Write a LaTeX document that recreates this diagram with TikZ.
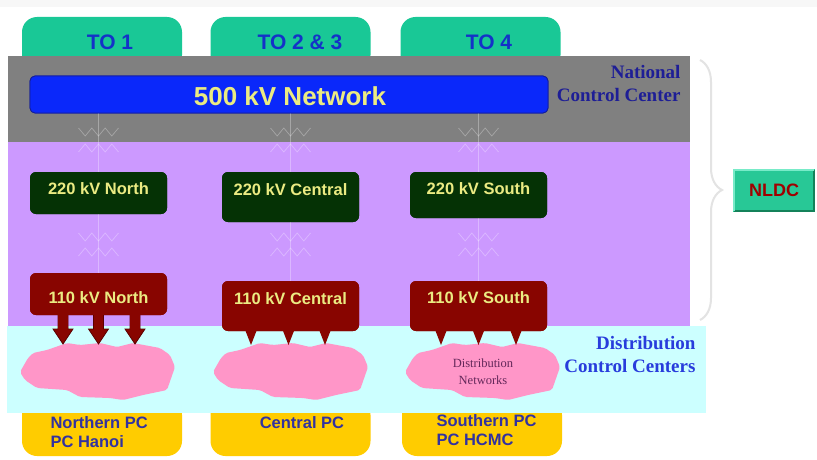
\documentclass[tikz,border=0pt]{standalone}
\usepackage{fontspec}
\setmainfont{Liberation Serif}
\setsansfont{Liberation Sans}
\usetikzlibrary{decorations.pathreplacing}
\definecolor{tabgreen}{RGB}{25,200,150}
\definecolor{tabtext}{RGB}{20,50,200}
\definecolor{nccgray}{RGB}{128,128,128}
\definecolor{barblue}{RGB}{10,40,250}
\definecolor{barborder}{RGB}{20,30,150}
\definecolor{lilac}{RGB}{204,153,255}
\definecolor{paleCyan}{RGB}{204,255,255}
\definecolor{pcyellow}{RGB}{255,204,0}
\definecolor{pcText}{RGB}{50,50,160}
\definecolor{cloudpink}{RGB}{255,150,200}
\definecolor{darkgreenbox}{RGB}{5,50,5}
\definecolor{darkredbox}{RGB}{136,5,0}
\definecolor{darkredline}{RGB}{90,0,0}
\definecolor{lbltext}{RGB}{235,235,130}
\definecolor{nccText}{RGB}{30,30,150}
\definecolor{dccText}{RGB}{40,60,220}
\definecolor{nldcgreen}{RGB}{40,200,150}
\definecolor{nldcedge}{RGB}{20,130,90}
\definecolor{nldclight}{RGB}{120,235,200}
\definecolor{nldcText}{RGB}{160,0,0}
\definecolor{netText}{RGB}{100,40,90}
\tikzset{
  tabbox/.style={fill=tabgreen, rounded corners=15pt, minimum width=160pt, minimum height=53pt, inner sep=0pt},
  tablbl/.style={font=\sffamily\bfseries\fontsize{21}{23}\selectfont, text=tabtext},
  pcbox/.style={fill=pcyellow, rounded corners=15pt, minimum width=160pt, minimum height=56pt, inner sep=0pt},
  pclbl/.style={font=\sffamily\bfseries\fontsize{16.5}{19.5}\selectfont, text=pcText, align=left},
  hvbox/.style={fill=barblue, draw=barborder, line width=0.8pt, rounded corners=5pt, minimum width=518pt, minimum height=37pt, inner sep=0pt},
  hvlbl/.style={font=\sffamily\bfseries\fontsize{26}{28}\selectfont, text=lbltext},
  gbox/.style={fill=darkgreenbox, rounded corners=6pt, minimum width=137pt, inner sep=0pt},
  rbox/.style={fill=darkredbox, rounded corners=6pt, minimum width=137pt, inner sep=0pt},
  boxlbl/.style={font=\sffamily\bfseries\fontsize{16.5}{18}\selectfont, text=lbltext},
  ctrlbl/.style={font=\rmfamily\bfseries\fontsize{19}{23}\selectfont, align=right, anchor=east},
  xfline/.style={draw=white, draw opacity=0.3, line width=0.7pt},
  downarrow/.style={fill=darkredbox, draw=darkredline, line width=0.8pt, line join=miter},
  coilv/.pic={\draw[xfline] (-20,0)--(-13.3,8)--(-6.7,0)--(0,8)--(6.7,0)--(13.3,8)--(20,0);},
  coila/.pic={\draw[xfline] (-20,8)--(-13.3,0)--(-6.7,8)--(0,0)--(6.7,8)--(13.3,0)--(20,8);},
  distcloud/.pic={\fill[cloudpink, rounded corners=2pt]
     (-70,-13)--(-78,1)--(-73,9)--(-61,17)--(-31,19)--(-18,26)--(12,27)--(25,29)--(45,24)--(69,19)
     --(77,-4)--(72,-16)--(62,-23)--(35,-28)--(19,-24)--(2,-28)--(-18,-26)--(-31,-28)--(-51,-21)--(-65,-18)--cycle;},
  callout/.pic={\fill[darkredbox] (-7,-4)--(7,-4)--(0,14)--cycle;},
  blockarrow/.pic={\path[downarrow] (-5,0)--(-5,14)--(-10,14)--(0,29)--(10,14)--(5,14)--(5,0);
     \fill[darkredbox] (-4.6,-1)--(-4.6,14.4)--(4.6,14.4)--(4.6,-1)--cycle;},
}
\begin{document}
\begin{tikzpicture}[x=1pt,y=-1pt]
\useasboundingbox (0,0) rectangle (817,460);
\fill[white] (0,0) rectangle (817,460);
\fill[black!3] (0,0) rectangle (817,7);

% TO tabs
\node[tabbox] (to1) at (102,43.5) {};
\node[tabbox] (to23) at (290.5,43.5) {};
\node[tabbox] (to4) at (480.5,43.5) {};

% national control center band
\fill[nccgray] (8,56) rectangle (690,142);
% regional band
\fill[lilac] (8,142) rectangle (690,326);

% yellow PC boxes
\node[pcbox] (pc1) at (102,428) {};
\node[pcbox] (pc2) at (290.5,428) {};
\node[pcbox] (pc3) at (482,428) {};

% distribution band
\fill[paleCyan] (7,326) rectangle (706,413);

% 500 kV bar
\node[hvbox] (hv) at (289,94.5) {};

% 220 kV boxes
\node[gbox, minimum height=42pt] (g1) at (98.5,193) {};
\node[gbox, minimum height=50pt] (g2) at (290.5,197) {};
\node[gbox, minimum height=46pt] (g3) at (478.5,195) {};

% 110 kV boxes
\node[rbox, minimum height=42pt] (r1) at (98.5,294) {};
\node[rbox, minimum height=50pt] (r2) at (290.5,306) {};
\node[rbox, minimum height=50pt] (r3) at (478.5,306) {};

% transformer connectors
\foreach \g/\r in {g1/r1, g2/r2, g3/r3}{
  \draw[xfline] (hv.south -| \g.north) -- (\g.north);
  \draw[xfline] (\g.south) -- (\r.north);
}
\foreach \x in {98.5, 290.5, 478.5}{
  \pic at (\x,128) {coilv};
  \pic at (\x,144) {coila};
  \pic at (\x,233) {coilv};
  \pic at (\x,248) {coila};
}
% redraw boxes above the connector lines
\node[hvbox] (hvtop) at (289,94.5) {};
\node[gbox, minimum height=42pt] (g1t) at (98.5,193) {};
\node[gbox, minimum height=50pt] (g2t) at (290.5,197) {};
\node[gbox, minimum height=46pt] (g3t) at (478.5,195) {};
\node[rbox, minimum height=42pt] (r1t) at (98.5,294) {};

% distribution network clouds
\pic at (98,371) {distcloud};
\pic at (291,371) {distcloud};
\pic at (483,371) {distcloud};

% arrows of the northern 110 kV box
\pic at (63,315) {blockarrow};
\pic at (98.5,315) {blockarrow};
\pic at (135,315) {blockarrow};

% callout tips of central and southern boxes
\node[rbox, minimum height=50pt] (r2t) at (290.5,306) {};
\node[rbox, minimum height=50pt] (r3t) at (478.5,306) {};
\foreach \x in {251,288.5,325}{\pic at (\x,331) {callout};}
\foreach \x in {441,478.5,516}{\pic at (\x,331) {callout};}

% brace and NLDC
\draw[black!11, line width=2pt, decorate, decoration={brace, amplitude=22pt}] (700,60) -- (700,320);
\node[fill=nldcgreen, minimum width=82pt, minimum height=43pt, inner sep=0pt,
      font=\sffamily\bfseries\fontsize{18}{20}\selectfont, text=nldcText] (nldc) at (774,190.5) {NLDC};
\draw[nldcedge, line width=2pt] ([shift={(1,-1)}]nldc.south west) -- ([shift={(-1,-1)}]nldc.south east) -- ([shift={(-1,1)}]nldc.north east);
\draw[nldclight, line width=2pt] ([shift={(1,-1)}]nldc.south west) -- ([shift={(1,1)}]nldc.north west) -- ([shift={(-1,1)}]nldc.north east);

% texts
\node[tablbl] (t1) at (110,42) {TO 1};
\node[tablbl] (t23) at (300,42) {TO 2 \& 3};
\node[tablbl] (t4) at (489,42) {TO 4};
\node[hvlbl] (thv) at (290,96) {500 kV Network};
\node[ctrlbl, text=nccText] (tncc) at (684,84) {National\\Control Center};
\node[ctrlbl, text=dccText] (tdcc) at (699,354) {Distribution\\Control Centers};
\node[boxlbl] (tg1) at (98.5,189) {220 kV North};
\node[boxlbl] (tg2) at (290.5,190) {220 kV Central};
\node[boxlbl] (tg3) at (478.5,189) {220 kV South};
\node[boxlbl] (tr1) at (98.5,298) {110 kV North};
\node[boxlbl] (tr2) at (290.5,299) {110 kV Central};
\node[boxlbl] (tr3) at (478.5,298) {110 kV South};
\node[font=\rmfamily\fontsize{12.5}{17}\selectfont, text=netText, align=center] (tnet) at (483,372) {Distribution\\Networks};
\node[pclbl, anchor=west] (tpc1) at (47,432) {Northern PC\\PC Hanoi};
\node[pclbl] (tpc2) at (302,423) {Central PC};
\node[pclbl, anchor=west] (tpc3) at (433,430) {Southern PC\\PC HCMC};
\end{tikzpicture}
\end{document}
